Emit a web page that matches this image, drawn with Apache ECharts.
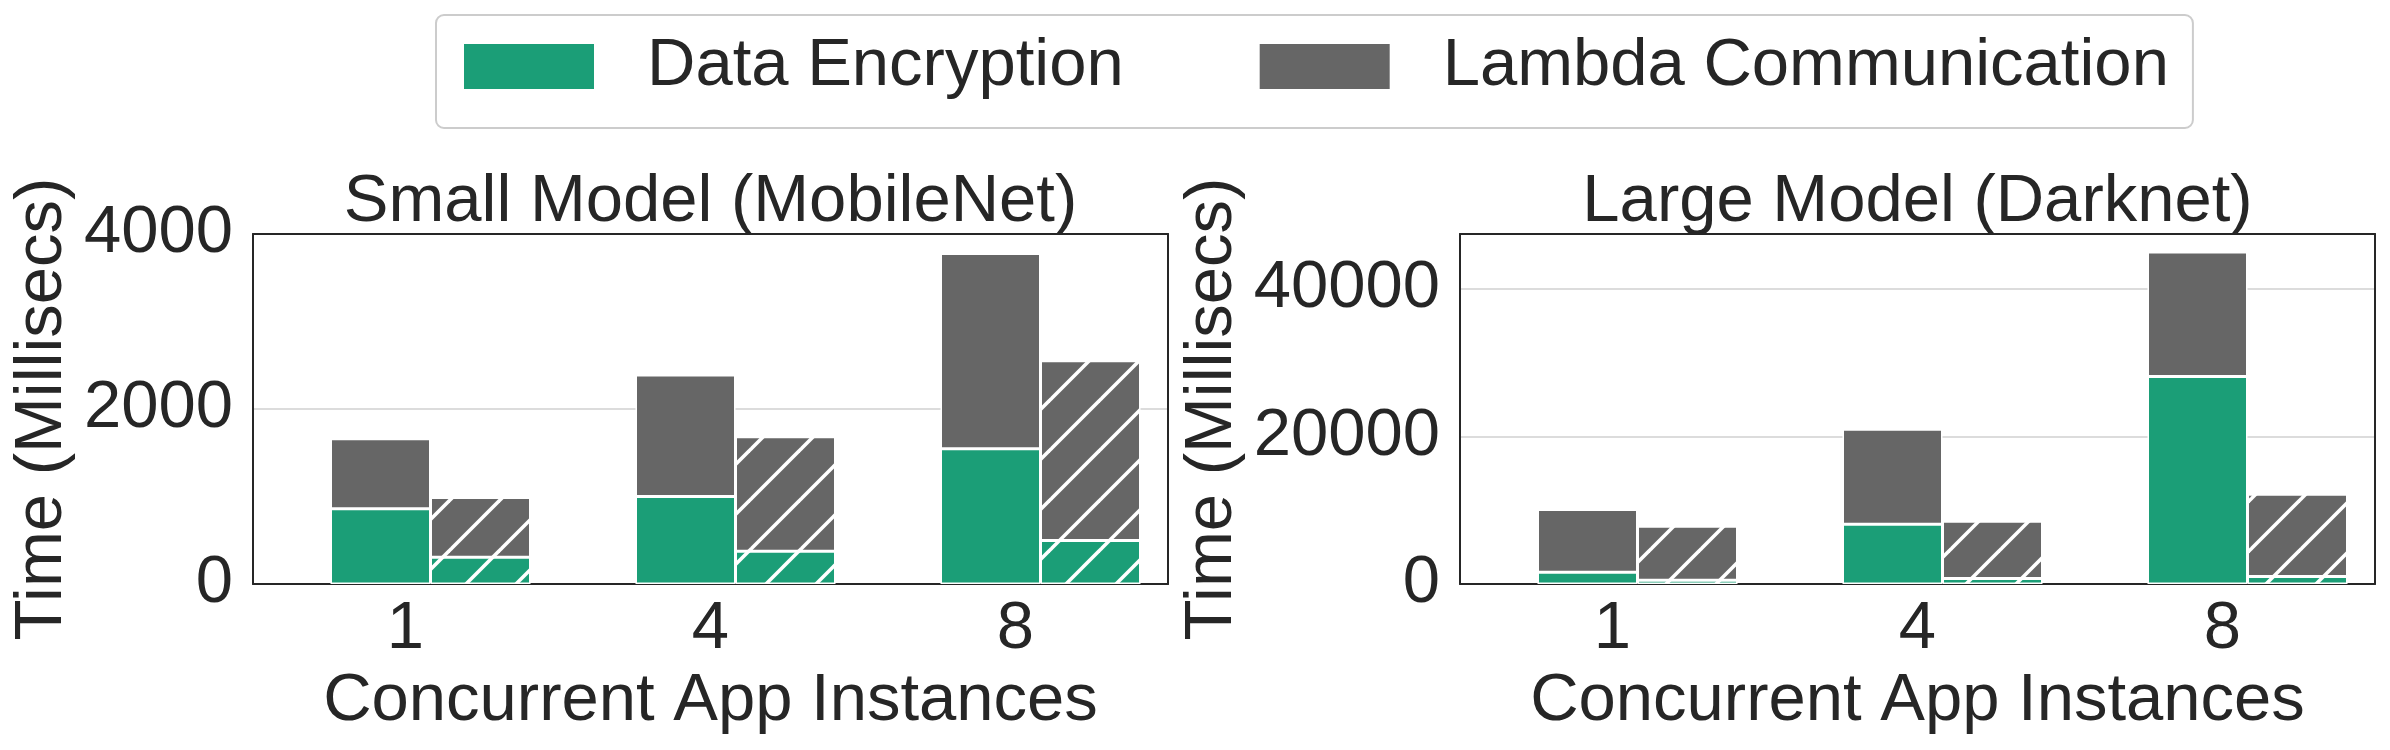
<!DOCTYPE html>
<html><head><meta charset="utf-8">
<script src="https://cdn.jsdelivr.net/npm/echarts@6/dist/echarts.min.js"></script>
<style>html,body{margin:0;padding:0;background:#fff}#c{width:2390px;height:750px}</style>
</head><body><div id="c"></div>
<script>
// ---- data ----
const categories = ['1', '4', '8'];
const seriesNames = ['Data Encryption', 'Lambda Communication'];
const panelTitles = ['Small Model (MobileNet)', 'Large Model (Darknet)'];
const xAxisTitle = 'Concurrent App Instances';
const yAxisTitle = 'Time (Millisecs)';
// Small model (MobileNet)
const smallSolidEnc  = [860, 1000, 1545];
const smallSolidComm = [800, 1390, 2233];
const smallHatchEnc  = [305, 373, 498];
const smallHatchComm = [685, 1310, 2054];
// Large model (Darknet)
const largeSolidEnc  = [1600, 8100, 28100];
const largeSolidComm = [8500, 12850, 16870];
const largeHatchEnc  = [500, 760, 1030];
const largeHatchComm = [7320, 7740, 11130];
// y-axis ranges / ticks
const smallYMax = 4000, smallYStep = 2000;
const largeYMax = 47400, largeYStep = 20000;
const emptySlot = ['-', '-', '-'];

// ---- style ----
const GREEN = '#1b9e77', GRAY = '#666666', INK = '#262626';
const FONT = "'Liberation Sans', Arial, sans-serif";
const FS = 67;

function hatch(bg) {
  const S = 50, c = document.createElement('canvas');
  c.width = S; c.height = S;
  const g = c.getContext('2d');
  g.fillStyle = bg; g.fillRect(0, 0, S, S);
  g.strokeStyle = '#ffffff'; g.lineWidth = 3.6;
  for (let k = -1; k <= 1; k++) {
    g.beginPath(); g.moveTo(k * S - 3, S + 3); g.lineTo(k * S + S + 3, -3); g.stroke();
  }
  return { image: c, repeat: 'repeat' };
}

const grids = [
  { left: 253, width: 915, top: 234, height: 350 },
  { left: 1460, width: 915, top: 234, height: 350 }
];
const panels = [
  { se: smallSolidEnc, sc: smallSolidComm, he: smallHatchEnc, hc: smallHatchComm, max: smallYMax, step: smallYStep, nameGap: 177 },
  { se: largeSolidEnc, sc: largeSolidComm, he: largeHatchEnc, hc: largeHatchComm, max: largeYMax, step: largeYStep, nameGap: 214 }
];

const frameLine = { show: true, onZero: false, lineStyle: { color: INK, width: 2 } };
const xAxes = [], yAxes = [], series = [], titles = [];
panels.forEach((p, i) => {
  xAxes.push({
    type: 'category', gridIndex: i, data: categories, position: 'bottom',
    axisLine: frameLine, axisTick: { show: false },
    axisLabel: { fontSize: FS, color: INK, margin: 12, fontFamily: FONT },
    name: xAxisTitle, nameLocation: 'middle', nameGap: 84,
    nameTextStyle: { fontSize: FS, color: INK, fontFamily: FONT }
  });
  yAxes.push({
    type: 'value', gridIndex: i, min: 0, max: p.max, interval: p.step, position: 'left',
    axisLine: frameLine, axisTick: { show: false },
    splitLine: { show: true, lineStyle: { color: '#d0d0d0', width: 1.5 } },
    axisLabel: {
      fontSize: FS, color: INK, margin: 20, fontFamily: FONT, showMaxLabel: p.max % p.step === 0,
      formatter: v => (v % p.step === 0 ? String(v) : '')
    },
    name: yAxisTitle, nameLocation: 'middle', nameGap: p.nameGap,
    nameTextStyle: { fontSize: FS, color: INK, fontFamily: FONT }
  });
  titles.push({
    text: panelTitles[i], left: grids[i].left + grids[i].width / 2, textAlign: 'center',
    top: 169, padding: 0,
    textStyle: { fontSize: FS, fontWeight: 'normal', color: INK, fontFamily: FONT }
  });
  const common = { type: 'bar', xAxisIndex: i, yAxisIndex: i, barGap: '0%', barWidth: 100 };
  const border = { borderColor: '#ffffff', borderWidth: 1.5 };
  series.push({ ...common, name: '_gap', stack: 'gap' + i, barWidth: 50, data: emptySlot, silent: true, itemStyle: { color: 'rgba(0,0,0,0)' } });
  series.push({ ...common, name: seriesNames[0], stack: 'solid' + i, data: p.se, itemStyle: { color: GREEN, ...border } });
  series.push({ ...common, name: seriesNames[1], stack: 'solid' + i, data: p.sc, itemStyle: { color: GRAY, ...border } });
  series.push({ ...common, name: seriesNames[0], stack: 'hatch' + i, data: p.he, itemStyle: { color: hatch(GREEN), ...border } });
  series.push({ ...common, name: seriesNames[1], stack: 'hatch' + i, data: p.hc, itemStyle: { color: hatch(GRAY), ...border } });
});
// top / right frame edges (axes with only a line)
panels.forEach((p, i) => {
  xAxes.push({ type: 'category', gridIndex: i, data: categories, position: 'top',
    axisLine: frameLine, axisTick: { show: false }, axisLabel: { show: false }, splitLine: { show: false } });
  yAxes.push({ type: 'value', gridIndex: i, min: 0, max: p.max, interval: p.step, position: 'right',
    axisLine: frameLine, axisTick: { show: false }, axisLabel: { show: false }, splitLine: { show: false } });
});

const chart = echarts.init(document.getElementById('c'), null, { renderer: 'canvas' });
chart.setOption({
  animation: false,
  backgroundColor: '#ffffff',
  textStyle: { fontFamily: FONT },
  title: titles,
  legend: {
    data: seriesNames.map(n => ({ name: n, itemStyle: { color: n === seriesNames[0] ? GREEN : GRAY, borderWidth: 0 } })),
    left: 436, top: 15,
    padding: [18, 24, 28, 28],
    borderColor: '#cccccc', borderWidth: 2, borderRadius: 8, backgroundColor: '#ffffff',
    icon: 'rect', itemWidth: 130, itemHeight: 45, itemGap: 136,
    textStyle: { fontSize: FS, color: INK, fontFamily: FONT, padding: [0, 0, 0, 48] },
    selectedMode: false
  },
  grid: grids.map(g => ({ ...g, show: false, containLabel: false })),
  xAxis: xAxes,
  yAxis: yAxes,
  series: series
});
</script></body></html>
